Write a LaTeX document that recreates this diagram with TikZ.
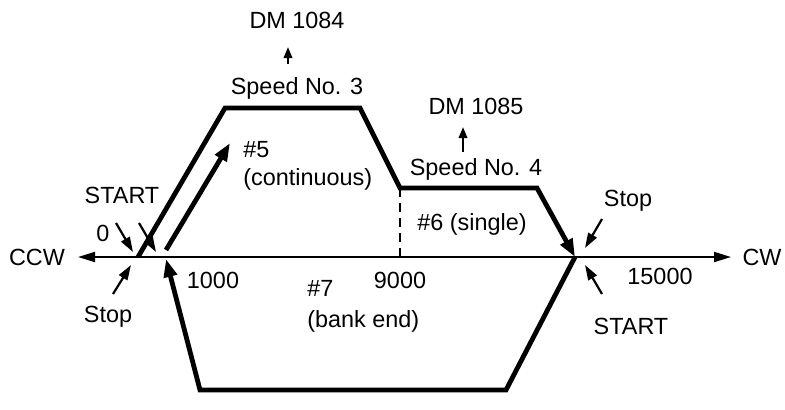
\documentclass[tikz,border=0pt]{standalone}
\usepackage{fontspec}
\setmainfont{Liberation Sans}
\usetikzlibrary{arrows.meta}
\begin{document}
\begin{tikzpicture}[x=0.5pt,y=-0.5pt,
   lbl/.style={font=\fontsize{11.7}{14}\selectfont,inner sep=0pt,anchor=base},
   note/.style={lbl,anchor=base west,align=left},
   feed/.style={line width=2.4pt,line join=miter},
   mv/.style={feed,-{Triangle[length=9pt,width=6.5pt]}},
   ptr/.style={line width=1.1pt,-{Triangle[length=7.5pt,width=4.8pt]}},
   up/.style={line width=1.1pt,-{Triangle[length=5.5pt,width=4.2pt]}},
   axis/.style={line width=1pt,{Triangle[length=8.5pt,width=5pt]}-{Triangle[length=8.5pt,width=5pt]}}]
  \useasboundingbox (0,0) rectangle (785,409);
  % axis
  \coordinate (ccw) at (78,257);
  \coordinate (cw) at (731,257);
  \draw[axis] (ccw) -- (cw);
  \node[lbl] (tccw) at (37,265.5) {CCW};
  \node[lbl] (tcw) at (762,265.5) {CW};
  % profile points
  \coordinate (p0) at (138,257);
  \coordinate (p1) at (225,108);
  \coordinate (p2) at (360,108);
  \coordinate (p3) at (400,188);
  \coordinate (p4) at (537,188);
  \coordinate (pe) at (575,257);
  \coordinate (b1) at (506,390);
  \coordinate (b2) at (200,390);
  \coordinate (pk) at (166,259);
  \coordinate (s5) at (166,250);
  \coordinate (t5) at (230,143);
  \coordinate (d9) at (400,257);
  \draw[mv] (p0) -- (p1) -- (p2) -- (p3) -- (p4) -- (pe);
  \draw[mv] (pe) -- (b1) -- (b2) -- (pk);
  \draw[mv] (s5) -- (t5);
  \draw[line width=1pt,dash pattern=on 4.5pt off 3pt] (p3) -- (d9);
  % speed labels
  \node[lbl] (dm3) at (297,28.5) {DM 1084};
  \node[lbl] (sp3) at (297,94.5) {Speed No. 3};
  \node[lbl] (dm4) at (476,114.5) {DM 1085};
  \node[lbl] (sp4) at (476,175.5) {Speed No. 4};
  \coordinate (a3) at (288,64); \coordinate (e3) at (288,47);
  \coordinate (a4) at (463,152); \coordinate (e4) at (463,127);
  \draw[up] (a3) -- (e3);
  \draw[up] (a4) -- (e4);
  % moves
  \node[note] (n5) at (243,185.5) {\#5\\(continuous)};
  \node[lbl] (n6) at (472,230.5) {\#6 (single)};
  \node[note,font=\fontsize{11.7}{15.5}\selectfont] (n7) at (307,327.5) {\#7\\(bank end)};
  % positions
  \node[lbl] (x1) at (213,288.5) {1000};
  \node[lbl] (x9) at (400,288.5) {9000};
  \node[lbl] (x15) at (660,284.5) {15000};
  % start and stop marks
  \node[lbl] (zero) at (103,241.5) {0};
  \node[lbl] (stL) at (122,203.5) {START};
  \node[lbl] (spL) at (108,322.5) {Stop};
  \node[lbl] (spR) at (628,206.5) {Stop};
  \node[lbl] (stR) at (631,334.5) {START};
  \coordinate (q1) at (116,223); \coordinate (r1) at (133,252);
  \coordinate (q2) at (139,223); \coordinate (r2) at (156,252);
  \coordinate (q3) at (113,294); \coordinate (r3) at (131,265);
  \coordinate (q4) at (602,219); \coordinate (r4) at (585,248);
  \coordinate (q5) at (602,294); \coordinate (r5) at (585,265);
  \draw[ptr] (q1) -- (r1);
  \draw[ptr] (q2) -- (r2);
  \draw[ptr] (q3) -- (r3);
  \draw[ptr] (q4) -- (r4);
  \draw[ptr] (q5) -- (r5);
\end{tikzpicture}
\end{document}
